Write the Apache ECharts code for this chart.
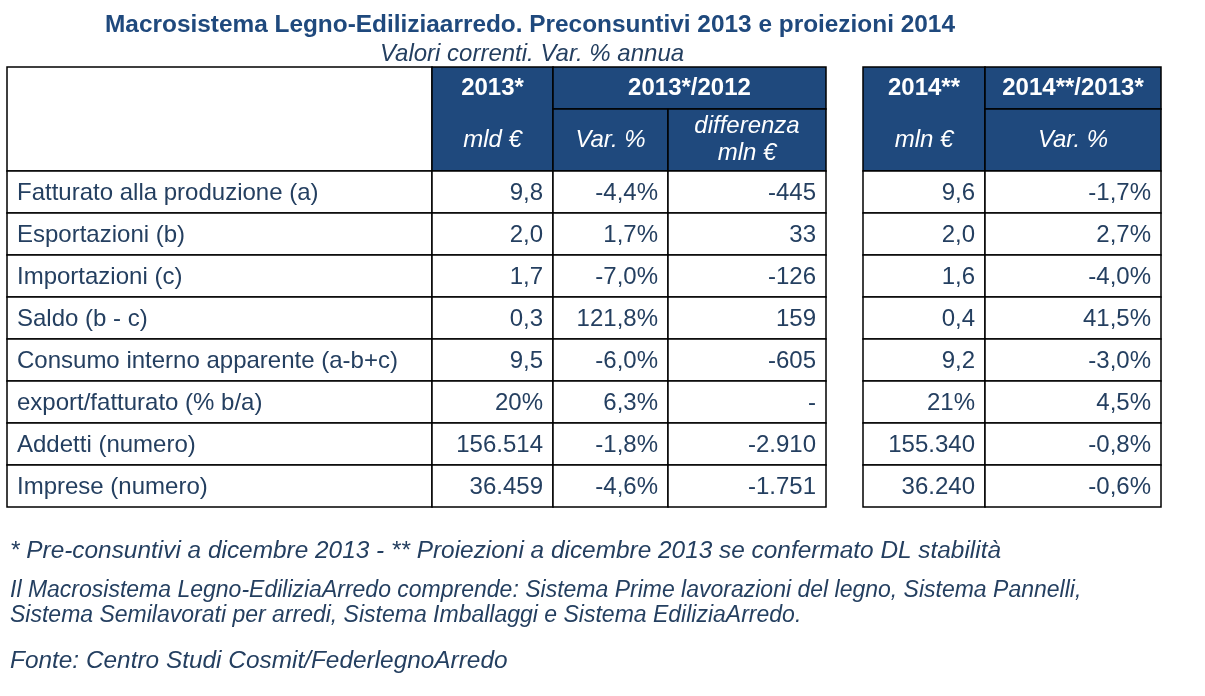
<!DOCTYPE html>
<html>
<head>
<meta charset="utf-8">
<script src="https://cdn.jsdelivr.net/npm/echarts@6/dist/echarts.min.js"></script>
<style>
  html, body { margin: 0; padding: 0; background: #fff; }
  #main { width: 1205px; height: 696px; }
</style>
</head>
<body>
<div id="main"></div>
<script>
// dati della tabella
const rowLabels = [
    'Fatturato alla produzione (a)',
    'Esportazioni (b)',
    'Importazioni (c)',
    'Saldo (b - c)',
    'Consumo interno apparente (a-b+c)',
    'export/fatturato (% b/a)',
    'Addetti (numero)',
    'Imprese (numero)'
];
const valori2013 = [9.8, 2.0, 1.7, 0.3, 9.5, 20, 156514, 36459];
const var2013 = [-4.4, 1.7, -7.0, 121.8, -6.0, 6.3, -1.8, -4.6];
const diff2013 = [-445, 33, -126, 159, -605, null, -2910, -1751];
const valori2014 = [9.6, 2.0, 1.6, 0.4, 9.2, 21, 155340, 36240];
const var2014 = [-1.7, 2.7, -4.0, 41.5, -3.0, 4.5, -0.8, -0.6];
// formato dei valori assoluti per riga
const rowFormat = ['dec', 'dec', 'dec', 'dec', 'dec', 'pct', 'int', 'int'];

const headTop = ['2013*', '2013*/2012', '2014**', '2014**/2013*'];
const headUnits = ['mld €', 'Var. %', 'differenza\nmln €', 'mln €', 'Var. %'];

const titleText = 'Macrosistema Legno-Ediliziaarredo. Preconsuntivi 2013 e proiezioni 2014';
const subtitleText = 'Valori correnti. Var. % annua';
const notes = [
    '* Pre-consuntivi a dicembre 2013 - ** Proiezioni a dicembre 2013 se confermato DL stabilità',
    'Il Macrosistema Legno-EdiliziaArredo comprende: Sistema Prime lavorazioni del legno, Sistema Pannelli,',
    'Sistema Semilavorati per arredi, Sistema Imballaggi e Sistema EdiliziaArredo.',
    'Fonte: Centro Studi Cosmit/FederlegnoArredo'
];

// layout (unità = pixel sugli assi nascosti)
const cols = [[7, 432], [432, 553], [553, 668], [668, 826], [863, 985], [985, 1161]];
const headY = [67, 109, 171];
const rowH = 42;
const noteY = [551, 591, 616, 661];
const noteSize = [24.4, 23, 23, 24.4];
const blu = '#1f497d';
const testo = '#243f60';
const font = '"Liberation Sans", Arial, sans-serif';

function fmtNum(v, dec) {
    let s = Math.abs(v).toFixed(dec).replace('.', ',');
    let parts = s.split(',');
    parts[0] = parts[0].replace(/\B(?=(\d{3})+(?!\d))/g, '.');
    return (v < 0 ? '-' : '') + parts.join(',');
}
function fmtAbs(v, r) {
    if (rowFormat[r] === 'dec') return fmtNum(v, 1);
    if (rowFormat[r] === 'pct') return fmtNum(v, 0) + '%';
    return fmtNum(v, 0);
}
function fmtPct(v) { return fmtNum(v, 1) + '%'; }

// celle del corpo: [colonna, riga, testo]
let bodyData = [];
rowLabels.forEach(function (lab, r) {
    bodyData.push([0, r, lab]);
    bodyData.push([1, r, fmtAbs(valori2013[r], r)]);
    bodyData.push([2, r, fmtPct(var2013[r])]);
    bodyData.push([3, r, diff2013[r] == null ? '-' : fmtNum(diff2013[r], 0)]);
    bodyData.push([4, r, fmtAbs(valori2014[r], r)]);
    bodyData.push([5, r, fmtPct(var2014[r])]);
});

// celle di intestazione: [col0, col1, riga0, riga1, testo alto, testo basso]
let headData = [
    [0, 0, 0, 2, '', ''],
    [1, 1, 0, 2, headTop[0], headUnits[0]],
    [2, 3, 0, 1, headTop[1], ''],
    [2, 2, 1, 2, '', headUnits[1]],
    [3, 3, 1, 2, '', headUnits[2]],
    [4, 4, 0, 2, headTop[2], headUnits[3]],
    [5, 5, 0, 1, headTop[3], ''],
    [5, 5, 1, 2, '', headUnits[4]]
];

let myChart = echarts.init(document.getElementById('main'));

let option = {
    animation: false,
    backgroundColor: '#fff',
    title: [{
        text: titleText,
        left: 525, top: 8, textAlign: 'center',
        textStyle: { fontFamily: font, fontSize: 24.4, fontWeight: 'bold', color: blu }
    }, {
        text: subtitleText,
        left: 527, top: 37, textAlign: 'center',
        textStyle: { fontFamily: font, fontSize: 24, fontWeight: 'normal', fontStyle: 'italic', color: testo }
    }],
    grid: { left: 0, right: 0, top: 0, bottom: 0 },
    xAxis: { type: 'value', min: 0, max: 1205, show: false },
    yAxis: { type: 'value', min: 0, max: 696, inverse: true, show: false },
    series: [{
        type: 'custom',
        data: headData,
        renderItem: function (params, api) {
            let c0 = api.value(0), c1 = api.value(1), r0 = api.value(2), r1 = api.value(3);
            let p0 = api.coord([cols[c0][0], headY[r0]]);
            let p1 = api.coord([cols[c1][1], headY[r1]]);
            let top = headData[params.dataIndex][4];
            let bot = headData[params.dataIndex][5];
            let cx = (p0[0] + p1[0]) / 2;
            let children = [{
                type: 'rect',
                shape: { x: p0[0], y: p0[1], width: p1[0] - p0[0], height: p1[1] - p0[1] },
                style: { fill: c0 === 0 ? '#fff' : blu, stroke: '#000', lineWidth: 1.5 }
            }];
            let yTop = api.coord([0, (headY[0] + headY[1]) / 2])[1];
            let yBot = api.coord([0, (headY[1] + headY[2]) / 2])[1];
            if (top) {
                children.push({
                    type: 'text',
                    style: { x: cx, y: yTop, text: top, align: 'center', verticalAlign: 'middle',
                        fill: '#fff', font: 'bold 24px ' + font }
                });
            }
            if (bot) {
                children.push({
                    type: 'text',
                    style: { x: cx, y: yBot, text: bot, align: 'center', verticalAlign: 'middle',
                        fill: '#fff', font: 'italic 24px ' + font, lineHeight: 27 }
                });
            }
            return { type: 'group', children: children };
        },
        z: 2
    }, {
        type: 'custom',
        data: bodyData,
        renderItem: function (params, api) {
            let c = api.value(0), r = api.value(1);
            let p0 = api.coord([cols[c][0], headY[2] + r * rowH]);
            let p1 = api.coord([cols[c][1], headY[2] + (r + 1) * rowH]);
            let txt = bodyData[params.dataIndex][2];
            let left = c === 0;
            return {
                type: 'group',
                children: [{
                    type: 'rect',
                    shape: { x: p0[0], y: p0[1], width: p1[0] - p0[0], height: p1[1] - p0[1] },
                    style: { fill: '#fff', stroke: '#000', lineWidth: 1.5 }
                }, {
                    type: 'text',
                    style: {
                        x: left ? p0[0] + 10 : p1[0] - 10,
                        y: (p0[1] + p1[1]) / 2 + 1,
                        text: txt,
                        align: left ? 'left' : 'right',
                        verticalAlign: 'middle',
                        fill: testo,
                        font: '24px ' + font
                    }
                }]
            };
        },
        z: 2
    }],
    graphic: notes.map(function (t, i) {
        return {
            type: 'text',
            x: 10,
            y: noteY[i],
            style: { text: t, fill: testo, font: 'italic ' + noteSize[i] + 'px ' + font, verticalAlign: 'middle' }
        };
    })
};

myChart.setOption(option);
</script>
</body>
</html>
